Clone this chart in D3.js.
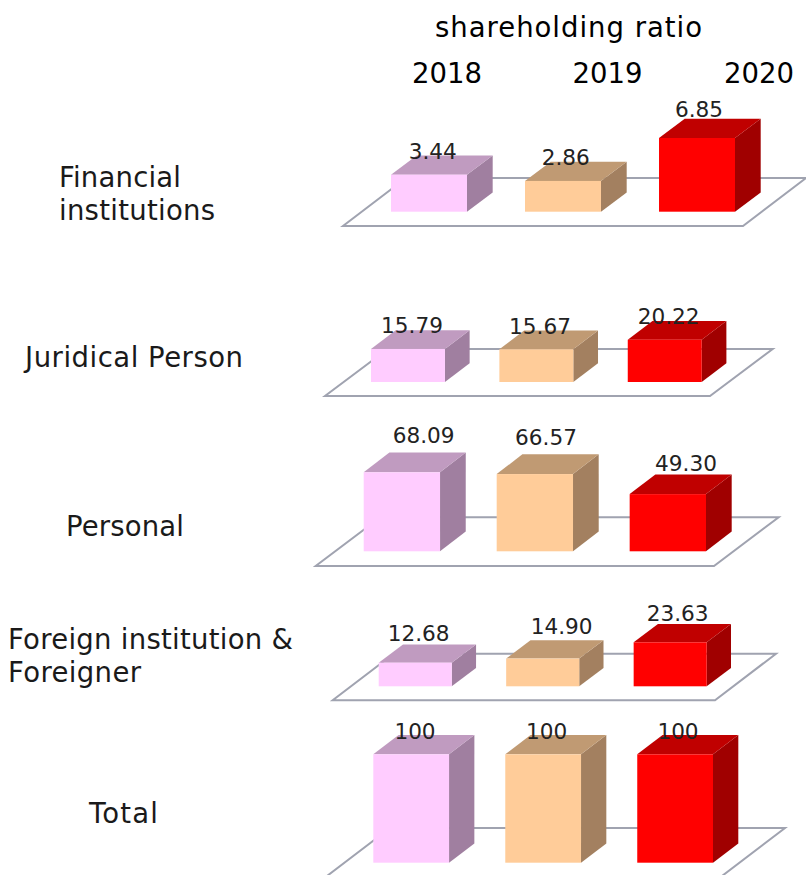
<!DOCTYPE html>
<html>
<head>
<meta charset="utf-8">
<script src="https://cdn.jsdelivr.net/npm/d3@7"></script>
<style>
  html, body { margin: 0; padding: 0; background: #fff; overflow: hidden; }
  text { font-family: "DejaVu Sans", sans-serif; }
</style>
</head>
<body>
<div class="chart"></div>
<script>
const years = ["2018", "2019", "2020"];
const financial = [3.44, 2.86, 6.85];
const juridical = [15.79, 15.67, 20.22];
const personal = [68.09, 66.57, 49.30];
const foreign = [12.68, 14.90, 23.63];
const total = [100, 100, 100];

// front, top and side colours of each year
const frontColors = ["#ffccff", "#ffcc99", "#ff0000"];
const topColors = ["#c09bc0", "#c09a73", "#c00000"];
const sideColors = ["#a07fa0", "#a38060", "#a00000"];

// panel geometry, measured on the reference
// lineWidths: reference font runs wider than DejaVu, so text is stretched to these
const panels = [
  {
    values: financial, lines: ["Financial", "institutions"], lineWidths: [122, 156], labelX: 59, labelY: 186.7,
    xRange: [391, 735], padding: 0.433, base: 211.7, top: 138, dx: 25.7, dy: 19.3,
    floor: { left: 343, right: 743, front: 226, backX: 63, back: 178 },
    valueX: [432.7, 565.7, 699], valueY: [159, 165, 117]
  },
  {
    values: juridical, lines: ["Juridical Person"], lineWidths: [218], labelX: 25, labelY: 367,
    xRange: [371, 701.7], padding: 0.424, base: 382, top: 339.7, dx: 24.7, dy: 18.7,
    floor: { left: 325, right: 710, front: 396, backX: 62.7, back: 349 },
    valueX: [412, 540, 668.7], valueY: [333, 334, 324]
  },
  {
    values: personal, lines: ["Personal"], lineWidths: [118], labelX: 66, labelY: 535.7,
    xRange: [363.7, 706], padding: 0.426, base: 551.3, top: 472.3, dx: 25.7, dy: 19.7,
    floor: { left: 315.7, right: 714, front: 566, backX: 64.7, back: 517.3 },
    valueX: [423.7, 546, 686], valueY: [443, 445, 471]
  },
  {
    values: foreign, lines: ["Foreign institution &", "Foreigner"], lineWidths: [285, 133], labelX: 8, labelY: 649,
    xRange: [378.7, 706.7], padding: 0.427, base: 686.3, top: 642.3, dx: 24.3, dy: 18.3,
    floor: { left: 332.7, right: 715, front: 700.3, backX: 61, back: 653.7 },
    valueX: [418.7, 561.7, 677.7], valueY: [641, 634, 621]
  },
  {
    values: total, lines: ["Total"], lineWidths: [69], labelX: 89, labelY: 822.7,
    xRange: [373.3, 713], padding: 0.426, base: 862.7, top: 754.3, dx: 25.3, dy: 19.3,
    floor: { left: 327, right: 722, front: 876, backX: 63, back: 828 },
    valueX: [415, 546.7, 678], valueY: [739, 739, 739]
  }
];

const width = 806;
const height = 875;

const svg = d3.select(".chart")
  .append("svg")
  .attr("width", width)
  .attr("height", height)
  .style("display", "block");

const line = d3.line();
const closed = pts => line(pts) + "Z";

// header
svg.append("text")
  .attr("x", 435)
  .attr("y", 37)
  .attr("font-size", 27.5)
  .attr("fill", "#000")
  .attr("textLength", 267)
  .attr("lengthAdjust", "spacing")
  .text("shareholding ratio");

svg.selectAll(".year")
  .data(years)
  .enter()
  .append("text")
  .attr("class", "year")
  .attr("x", (d, i) => [412, 572.5, 724][i])
  .attr("y", 83)
  .attr("font-size", 28)
  .attr("fill", "#000")
  .attr("textLength", 70)
  .attr("lengthAdjust", "spacingAndGlyphs")
  .text(d => d);

panels.forEach(panel => {
  const g = svg.append("g").attr("class", "panel");
  const f = panel.floor;

  const x = d3.scaleBand()
    .domain(years)
    .range(panel.xRange)
    .paddingInner(panel.padding)
    .paddingOuter(0);

  // every panel has its own height scale
  const y = d3.scaleLinear()
    .domain([0, d3.max(panel.values)])
    .range([panel.base, panel.top]);

  // floor plate
  g.append("path")
    .attr("d", closed([
      [f.left, f.front],
      [f.right, f.front],
      [f.right + f.backX, f.back],
      [f.left + f.backX, f.back]
    ]))
    .attr("fill", "#fff")
    .attr("stroke", "#a0a3b0")
    .attr("stroke-width", 2);

  const bars = g.selectAll(".bar")
    .data(panel.values)
    .enter()
    .append("g")
    .attr("class", "bar");

  // side face
  bars.append("path")
    .attr("d", (d, i) => {
      const r = x(years[i]) + x.bandwidth();
      return closed([
        [r, panel.base],
        [r + panel.dx, panel.base - panel.dy],
        [r + panel.dx, y(d) - panel.dy],
        [r, y(d)]
      ]);
    })
    .attr("fill", (d, i) => sideColors[i]);

  // top face
  bars.append("path")
    .attr("d", (d, i) => {
      const l = x(years[i]);
      const r = l + x.bandwidth();
      return closed([
        [l, y(d)],
        [r, y(d)],
        [r + panel.dx, y(d) - panel.dy],
        [l + panel.dx, y(d) - panel.dy]
      ]);
    })
    .attr("fill", (d, i) => topColors[i]);

  // front face
  bars.append("rect")
    .attr("x", (d, i) => x(years[i]))
    .attr("y", d => y(d))
    .attr("width", x.bandwidth())
    .attr("height", d => panel.base - y(d))
    .attr("fill", (d, i) => frontColors[i]);

  // value labels sit on top of everything in the panel
  g.selectAll(".value")
    .data(panel.values)
    .enter()
    .append("text")
    .attr("class", "value")
    .attr("x", (d, i) => panel.valueX[i])
    .attr("y", (d, i) => panel.valueY[i])
    .attr("text-anchor", "middle")
    .attr("font-size", 21.6)
    .attr("fill", "#222")
    .text(d => d === 100 ? "100" : d3.format(".2f")(d));

  // category label
  g.selectAll(".category")
    .data(panel.lines)
    .enter()
    .append("text")
    .attr("class", "category")
    .attr("x", panel.labelX)
    .attr("y", (d, i) => panel.labelY + i * 33)
    .attr("font-size", 27.5)
    .attr("fill", "#1a1a1a")
    .attr("textLength", (d, i) => panel.lineWidths[i])
    .attr("lengthAdjust", "spacing")
    .text(d => d);
});
</script>
</body>
</html>
